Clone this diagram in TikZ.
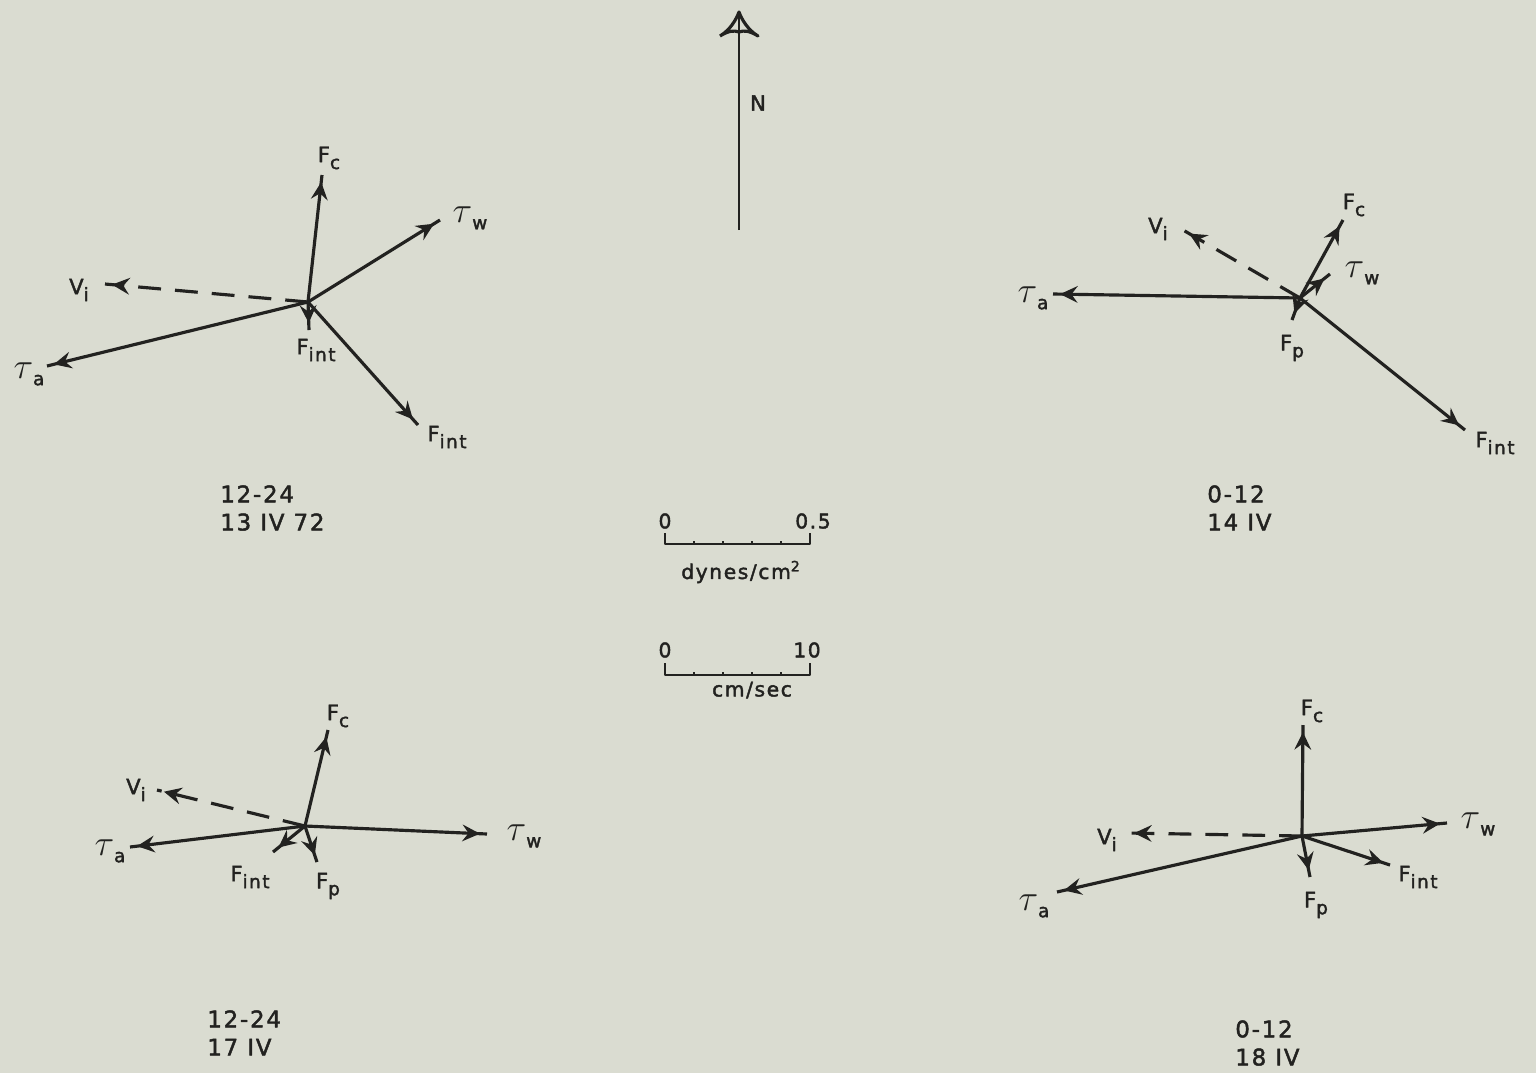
\documentclass[tikz,border=0pt]{standalone}
\usepackage{fontspec}
\setmainfont{DejaVu Sans}[LetterSpace=8, FakeBold=2]
\usetikzlibrary{arrows.meta,decorations.markings}

\definecolor{paper}{RGB}{218,220,209}
\definecolor{ink}{RGB}{34,34,32}

% label with lowered index
\newcommand{\qsub}[2]{#1\raisebox{-0.6ex}{\fontsize{10.5}{10.5}\selectfont #2}}
\newcommand{\tsub}[1]{\qsub{{\fontsize{22}{22}\selectfont$\tau$}}{#1}}

\tikzset{
  vec/.style={draw=ink, line width=1.8pt, postaction={decorate},
    decoration={markings, mark=at position -4pt with {\arrow[ink]{Stealth[length=10pt,width=9.5pt,inset=3.5pt]}}}},
  vel/.style={vec, dash pattern=on 13pt off 8pt},
  lab/.style={text=ink, inner sep=1pt, font=\fontsize{12}{14}\selectfont},
  dates/.style={text=ink, anchor=north west, inner sep=0pt, align=left, font=\fontsize{13}{16}\selectfont},
  scl/.style={text=ink, inner sep=1pt, font=\fontsize{11.5}{13}\selectfont}
}

\begin{document}
\begin{tikzpicture}[x=0.02cm, y=-0.02cm, line join=round]

	% paper
	\fill[paper] (0,0) rectangle (1536,1073);
	\useasboundingbox (0,0) rectangle (1536,1073);

	% ================= north arrow =================
	\coordinate (nS) at (739,230);
	\coordinate (nN) at (739,14);
	\draw[ink, line width=1.4pt] (nS) -- (nN);
	\draw[ink, line width=1.8pt] (720,36) .. controls (730,30) and (736,20) .. (739,12)
		.. controls (742,20) and (748,30) .. (758,36)
		.. controls (750,31) and (744,30) .. (739,32)
		.. controls (734,30) and (728,31) .. (720,36);
	\node[lab] (nlab) at (758,103) {N};

	% ================= scale bars =================
	\draw[ink, line width=1.5pt] (665,533) -- (665,544) -- (810,544) -- (810,533);
	\foreach \k in {1,...,4} \draw[ink, line width=1.5pt] (665+29*\k,544) -- ++(0,-3);
	\node[scl] (s1a) at (665,521) {0};
	\node[scl] (s1b) at (813,521) {0.5};
	\node[scl] (s1u) at (741,572) {dynes/cm\textsuperscript{2}};

	\draw[ink, line width=1.5pt] (665,663) -- (665,675) -- (810,675) -- (810,663);
	\foreach \k in {1,...,4} \draw[ink, line width=1.5pt] (665+29*\k,675) -- ++(0,-3);
	\node[scl] (s2a) at (665,650) {0};
	\node[scl] (s2b) at (807,650) {10};
	\node[scl] (s2u) at (752,690) {cm/sec};

	% ================= 12-24, 13 IV 72 =================
	\coordinate (c1) at (308,302);
	\coordinate (c1fc) at (322,175);
	\coordinate (c1tw) at (440,220);
	\coordinate (c1vi) at (105,284);
	\coordinate (c1ta) at (47,366);
	\coordinate (c1fi) at (309,330);
	\coordinate (c1fj) at (418,425);
	\draw[vel] (c1) -- (c1vi);
	\draw[vec] (c1) -- (c1fc);
	\draw[vec] (c1) -- (c1tw);
	\draw[vec] (c1) -- (c1ta);
	\draw[vec] (c1) -- (c1fi);
	\draw[vec] (c1) -- (c1fj);
	\node[lab] (l1fc) at (329,158) {\qsub{F}{c}};
	\node[lab] (l1tw) at (470,218) {\tsub{w}};
	\node[lab] (l1vi) at (79,290) {\qsub{V}{i}};
	\node[lab] (l1ta) at (29,374) {\tsub{a}};
	\node[lab] (l1fi) at (316,350) {\qsub{F}{int}};
	\node[lab] (l1fj) at (447,437) {\qsub{F}{int}};
	\node[dates] (d1) at (220,485) {12-24\\13 IV 72};

	% ================= 0-12, 14 IV =================
	\coordinate (c2) at (1300,298);
	\coordinate (c2ta) at (1053,294);
	\coordinate (c2vi) at (1183,230);
	\coordinate (c2fc) at (1343,220);
	\coordinate (c2tw) at (1330,274);
	\coordinate (c2fp) at (1292,320);
	\coordinate (c2fi) at (1465,430);
	\draw[vel] (c2) -- (c2vi);
	\draw[vec] (c2) -- (c2ta);
	\draw[vec] (c2) -- (c2fc);
	\draw[vec] (c2) -- (c2tw);
	\draw[vec] (c2) -- (c2fp);
	\draw[vec] (c2) -- (c2fi);
	\node[lab] (l2vi) at (1158,229) {\qsub{V}{i}};
	\node[lab] (l2fc) at (1354,205) {\qsub{F}{c}};
	\node[lab] (l2tw) at (1362,273) {\tsub{w}};
	\node[lab] (l2ta) at (1033,298) {\tsub{a}};
	\node[lab] (l2fp) at (1292,348) {\qsub{F}{p}};
	\node[lab] (l2fi) at (1495,443) {\qsub{F}{int}};
	\node[dates] (d2) at (1207,485) {0-12\\14 IV};

	% ================= 12-24, 17 IV =================
	\coordinate (c3) at (305,826);
	\coordinate (c3fc) at (328,730);
	\coordinate (c3vi) at (157,790);
	\coordinate (c3ta) at (130,847);
	\coordinate (c3tw) at (487,834);
	\coordinate (c3fi) at (273,852);
	\coordinate (c3fp) at (317,862);
	\draw[vel] (c3) -- (c3vi);
	\draw[vec] (c3) -- (c3fc);
	\draw[vec] (c3) -- (c3ta);
	\draw[vec] (c3) -- (c3tw);
	\draw[vec] (c3) -- (c3fi);
	\draw[vec] (c3) -- (c3fp);
	\node[lab] (l3fc) at (338,716) {\qsub{F}{c}};
	\node[lab] (l3vi) at (136,790) {\qsub{V}{i}};
	\node[lab] (l3ta) at (110,851) {\tsub{a}};
	\node[lab] (l3tw) at (524,836) {\tsub{w}};
	\node[lab] (l3fi) at (250,877) {\qsub{F}{int}};
	\node[lab] (l3fp) at (328,886) {\qsub{F}{p}};
	\node[dates] (d3) at (207,1010) {12-24\\17 IV};

	% ================= 0-12, 18 IV =================
	\coordinate (c4) at (1302,836);
	\coordinate (c4fc) at (1303,725);
	\coordinate (c4vi) at (1127,833);
	\coordinate (c4tw) at (1447,823);
	\coordinate (c4ta) at (1057,892);
	\coordinate (c4fp) at (1310,877);
	\coordinate (c4fi) at (1390,865);
	\draw[vel] (c4) -- (c4vi);
	\draw[vec] (c4) -- (c4fc);
	\draw[vec] (c4) -- (c4tw);
	\draw[vec] (c4) -- (c4ta);
	\draw[vec] (c4) -- (c4fp);
	\draw[vec] (c4) -- (c4fi);
	\node[lab] (l4fc) at (1312,711) {\qsub{F}{c}};
	\node[lab] (l4vi) at (1107,840) {\qsub{V}{i}};
	\node[lab] (l4tw) at (1478,824) {\tsub{w}};
	\node[lab] (l4ta) at (1034,906) {\tsub{a}};
	\node[lab] (l4fp) at (1316,905) {\qsub{F}{p}};
	\node[lab] (l4fi) at (1418,877) {\qsub{F}{int}};
	\node[dates] (d4) at (1235,1020) {0-12\\18 IV};

\end{tikzpicture}
\end{document}
